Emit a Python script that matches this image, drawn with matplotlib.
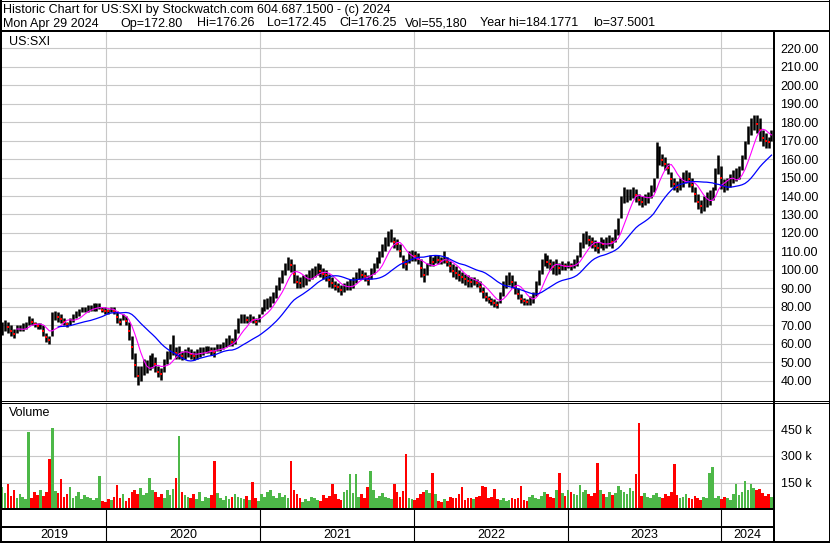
#Historic chart US:SXI (Stockwatch style)
import numpy as np
import pandas as pd
import matplotlib
matplotlib.use('Agg')
import matplotlib.pyplot as plt
from matplotlib.lines import Line2D

plt.rcParams['font.family'] = ['Liberation Sans', 'DejaVu Sans']

#Weekly data, first week starts Mon 2019-04-29
start = pd.Timestamp('2019-04-29')
week_hi = [72, 73, 72, 70, 68, 70, 70, 71, 72, 75,
           74, 72, 71, 71, 70, 66, 64, 77, 78, 77,
           76, 74, 72, 74, 76, 78, 79, 80, 80, 81,
           81, 82, 82, 82, 80, 80, 79, 80, 80, 78,
           74, 76, 75, 72, 64, 55, 48, 48, 52, 51,
           54, 55, 53, 48, 47, 52, 56, 60, 65, 58,
           59, 56, 57, 58, 57, 56, 57, 58, 58, 59,
           59, 58, 58, 60, 60, 61, 63, 65, 63, 68,
           74, 76, 76, 75, 76, 75, 74, 76, 80, 84,
           85, 86, 88, 92, 96, 100, 104, 107, 106, 103,
           97, 96, 97, 98, 100, 101, 102, 104, 103, 101,
           100, 98, 96, 94, 93, 92, 93, 94, 95, 96,
           99, 101, 100, 99, 97, 101, 104, 107, 110, 114,
           118, 121, 122, 118, 117, 114, 108, 106, 110, 111,
           110, 109, 106, 101, 104, 108, 107, 108, 108, 107,
           110, 107, 105, 103, 102, 100, 99, 98, 97, 96,
           96, 95, 94, 91, 88, 86, 85, 84, 83, 88,
           94, 97, 99, 97, 94, 90, 87, 85, 84, 86,
           88, 94, 100, 106, 109, 108, 106, 105, 106, 104,
           105, 104, 105, 104, 106, 108, 115, 120, 121, 119,
           118, 116, 115, 118, 117, 118, 119, 118, 122, 128,
           140, 145, 144, 144, 145, 144, 141, 140, 141, 142,
           146, 150, 169, 167, 163, 161, 158, 153, 150, 148,
           150, 153, 154, 153, 150, 145, 141, 138, 140, 142,
           143, 145, 155, 162, 156, 149, 150, 152, 154, 155,
           156, 162, 170, 178, 182, 184, 184, 182, 176, 174,
           172, 176]
week_lo = [65, 67, 66, 64, 63, 66, 67, 67, 68, 70,
           70, 69, 68, 68, 64, 61, 60, 64, 73, 72,
           71, 70, 69, 70, 72, 74, 75, 77, 77, 77,
           78, 78, 78, 79, 77, 76, 76, 77, 76, 71,
           70, 73, 70, 62, 52, 42, 37.5, 40, 43, 44,
           46, 47, 45, 42, 40.5, 45, 49, 52, 54, 52,
           52, 51, 52, 53, 52, 51, 52, 53, 54, 55,
           55, 54, 53, 56, 56, 57, 58, 59, 59, 60,
           66, 71, 71, 71, 72, 71, 70, 72, 76, 78,
           79, 80, 82, 85, 89, 93, 97, 100, 99, 93,
           90, 90, 91, 92, 94, 95, 96, 97, 96, 95,
           94, 91, 90, 89, 88, 86.5, 88, 89, 89, 90,
           93, 95, 95, 94, 92, 95, 98, 101, 104, 107,
           110, 113, 115, 112, 111, 107, 101, 100, 104, 105,
           105, 103, 96, 93.5, 97, 102, 102, 104, 103, 103,
           104, 102, 99, 96, 95, 94, 93, 92, 91, 91,
           92, 91, 88, 85, 83, 82, 81, 80, 79.5, 82,
           86, 90, 92, 90, 87, 84, 82, 81, 81, 81,
           82, 86, 92, 98, 102, 101, 100, 98, 97, 98,
           100, 100, 101, 100, 101, 102, 107, 112, 114, 113,
           112, 110, 109, 112, 111, 112, 113, 112, 115, 119,
           128, 136, 137, 138, 139, 137, 135, 134, 135, 136,
           139, 142, 150, 157, 156, 154, 152, 145, 143, 142,
           143, 145, 147, 145, 142, 137, 133, 131, 132, 134,
           135, 138, 143, 152, 144, 142, 143, 145, 147, 148,
           149, 154, 160, 168, 173, 176, 174, 170, 167, 166,
           166, 170]
# daily-size volume per week, thousands
week_vol = [125, 90, 140, 75, 110, 60, 85, 70, 55, 436,
            65, 95, 80, 110, 75, 95, 283, 461, 100, 90,
            167, 70, 85, 125, 60, 75, 95, 55, 80, 70,
            65, 50, 60, 185, 45, 40, 55, 50, 70, 138,
            60, 85, 45, 65, 95, 110, 85, 120, 80, 90,
            173, 110, 95, 70, 85, 60, 105, 80, 115, 173,
            411, 95, 80, 70, 60, 85, 55, 95, 45, 70,
            65, 80, 273, 90, 60, 50, 75, 55, 70, 85,
            70, 60, 55, 75, 50, 154, 65, 45, 85, 70,
            95, 110, 75, 65, 90, 70, 80, 60, 273, 110,
            85, 60, 40, 55, 45, 70, 65, 50, 45, 80,
            60, 75, 144, 85, 55, 50, 95, 110, 196, 90,
            196, 70, 85, 65, 123, 215, 110, 60, 75, 90,
            70, 65, 55, 144, 95, 70, 100, 311, 65, 55,
            50, 60, 85, 95, 110, 90, 202, 85, 45, 40,
            55, 45, 70, 65, 60, 85, 125, 50, 65, 60,
            55, 70, 75, 133, 125, 60, 70, 115, 55, 50,
            60, 45, 50, 65, 55, 60, 133, 50, 45, 70,
            80, 65, 55, 75, 95, 85, 70, 60, 110, 202,
            90, 75, 110, 95, 85, 80, 138, 95, 110, 85,
            75, 90, 260, 110, 85, 70, 95, 80, 90, 133,
            110, 95, 85, 120, 100, 196, 485, 75, 90, 70,
            65, 80, 90, 70, 60, 85, 75, 95, 254, 80,
            60, 70, 85, 65, 55, 75, 60, 50, 70, 65,
            202, 235, 60, 75, 55, 70, 65, 50, 85, 144,
            80, 95, 160, 110, 141, 120, 107, 113, 90, 75,
            85, 70]
years = [2019, 2020, 2021, 2022, 2023, 2024]
price_ticks = list(range(40, 221, 10))
vol_ticks = [150, 300, 450]

header1 = 'Historic Chart for US:SXI by Stockwatch.com 604.687.1500 - (c) 2024'
header2 = [(3, 'Mon Apr 29 2024'), (120, 'Op=172.80'), (197, 'Hi=176.26'),
           (267, 'Lo=172.45'), (339, 'Cl=176.25'), (405, 'Vol=55,180'),
           (480, 'Year hi=184.1771'), (593, 'lo=37.5001')]

hi = np.array(week_hi, dtype=float)
lo = np.array(week_lo, dtype=float)
vol = np.array(week_vol, dtype=float) * 1000
mid = (hi + lo) / 2
x = np.arange(len(hi))
ma_fast = pd.Series(mid).rolling(6).mean()
ma_slow = pd.Series(mid).rolling(20).mean()
up = np.r_[True, np.diff(mid) >= 0]
bounds = [(pd.Timestamp(f'{y}-01-01') - start).days / 7 for y in years[1:]]
xmin, xmax = -0.05, 261.85

W, H = 830, 543
fig = plt.figure(figsize=(W / 100, H / 100), dpi=100)

def box(x0, y0, x1, y1):
    return [x0 / W, 1 - y1 / H, (x1 - x0) / W, (y1 - y0) / H]

def line(x0, y0, x1, y1, lw=1):
    fig.add_artist(Line2D([x0 / W, x1 / W], [1 - y0 / H, 1 - y1 / H],
                          color='black', lw=lw * 0.72, zorder=5))

grid_c = '#C8C8C8'
green = '#4DB848'

#Price panel
ax = fig.add_axes(box(2, 32, 774, 400.5))
ax.vlines(x, lo, hi, color='black', lw=1.8, zorder=2)
ax.plot(x[~up], mid[~up], 's', color='red', ms=1.5, mew=0, zorder=3)
ax.plot(x, ma_fast, color='#FF00FF', lw=0.8, zorder=4)
ax.plot(x, ma_slow, color='#0000FF', lw=0.9, zorder=4)
ax.set_xlim(xmin, xmax)
ax.set_ylim(29.3, 228.8)
ax.set_yticks(price_ticks)
ax.set_yticklabels([f'{v:.2f}' for v in price_ticks])
ax.yaxis.tick_right()
ax.tick_params(axis='y', length=0, pad=4.5, labelsize=9)
ax.set_xticks([])
ax.grid(axis='y', color=grid_c, lw=0.8)
ax.set_axisbelow(True)
for b in bounds:
    ax.axvline(b, color=grid_c, lw=0.8, zorder=0)
for s in ax.spines.values():
    s.set_visible(False)

#Volume panel
axv = fig.add_axes(box(2, 403, 774, 509), sharex=ax)
axv.bar(x, vol, width=0.9, color=np.where(up, green, 'red'), zorder=2)
axv.set_ylim(0, 600000)
axv.set_yticks([v * 1000 for v in vol_ticks])
axv.set_yticklabels([f'{v} k' for v in vol_ticks])
axv.yaxis.tick_right()
axv.tick_params(axis='y', length=0, pad=5, labelsize=9)
axv.tick_params(axis='x', length=0, labelbottom=False)
axv.grid(axis='y', color=grid_c, lw=0.8)
axv.set_axisbelow(True)
for b in bounds:
    axv.axvline(b, color=grid_c, lw=0.8, zorder=0)
for s in axv.spines.values():
    s.set_visible(False)

#Year strip
axy = fig.add_axes(box(2, 509, 774, 541), sharex=ax)
axy.set_ylim(0, 32)
axy.vlines(bounds, 0, 32, color='black', lw=0.8)
edges = [xmin] + bounds + [xmax]
for i, y in enumerate(years):
    axy.text((edges[i] + edges[i + 1]) / 2, 6.5, str(y), ha='center',
             va='center', fontsize=9)
axy.axis('off')

#Header and labels
fig.text(3 / W, 1 - 12.5 / H, header1, fontsize=9, va='baseline')
for px, s in header2:
    fig.text(px / W, 1 - 26.5 / H, s, fontsize=9, va='baseline')
fig.text(9 / W, 1 - 42 / H, 'US:SXI', fontsize=9, va='center')
fig.text(9 / W, 1 - 413 / H, 'Volume', fontsize=9, va='center')

#Frame lines
line(0, 0.5, 830, 0.5)
line(0, 31, 830, 31, 2)
line(1, 0, 1, 543, 2)
line(829, 0, 829, 543)
line(774, 31, 774, 543, 2)
line(0, 400.7, 830, 400.7)
line(0, 402.7, 830, 402.7)
line(0, 509, 774, 509, 2)
line(0, 527, 774, 527, 2)
line(0, 542, 830, 542, 2)

fig.savefig('out.png', dpi=100)
